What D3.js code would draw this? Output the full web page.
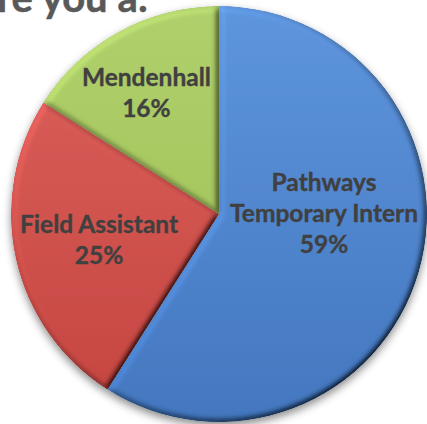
<!DOCTYPE html>
<html>
<head>
<meta charset="utf-8">
<script src="https://cdn.jsdelivr.net/npm/d3@7"></script>
<style>
html,body{margin:0;padding:0;background:#fff;overflow:hidden;}
svg{display:block;}
</style>
</head>
<body>
<script>
// ---- data ----
const title = "Are you a:";
const categories = ["Pathways Temporary Intern", "Field Assistant", "Mendenhall"];
const labelLines = [["Pathways", "Temporary Intern"], ["Field Assistant"], ["Mendenhall"]];
const values = [59, 25, 16];
const percentLabels = ["59%", "25%", "16%"];

// ---- layout / style ----
const W = 427, H = 424;
const cx = 219, cy = 214, R = 208;
const colorsTop = ["#5E95DD", "#DD625D", "#B0D06C"];
const colorsBottom = ["#4377BF", "#C4443F", "#9CBC52"];
const labelLayout = [{rf: 0.505, da: -16.7}, {rf: 0.59, da: 0.4}, {rf: 0.68, da: -2.1}];
const lineH = 31, capH = 17;
const font = "Lato, 'Open Sans', sans-serif";

const svg = d3.select("body").append("svg").attr("width", W).attr("height", H);
const defs = svg.append("defs");

values.forEach((v, i) => {
  const g = defs.append("linearGradient").attr("id", "grad" + i)
    .attr("gradientUnits", "userSpaceOnUse")
    .attr("x1", 0).attr("y1", -R).attr("x2", 0).attr("y2", R);
  g.append("stop").attr("offset", "0%").attr("stop-color", colorsTop[i]);
  g.append("stop").attr("offset", "100%").attr("stop-color", colorsBottom[i]);
});

// drop shadow
const sh = defs.append("filter").attr("id", "shadow")
  .attr("x", "-10%").attr("y", "-10%").attr("width", "125%").attr("height", "125%");
sh.append("feDropShadow").attr("dx", 0).attr("dy", 4).attr("stdDeviation", 4)
  .attr("flood-color", "#000").attr("flood-opacity", 0.45);

// bevel
const bv = defs.append("filter").attr("id", "bevel")
  .attr("x", "-5%").attr("y", "-5%").attr("width", "110%").attr("height", "110%");
bv.append("feGaussianBlur").attr("in", "SourceAlpha").attr("stdDeviation", 3).attr("result", "blur");
const dl = bv.append("feDiffuseLighting").attr("in", "blur").attr("surfaceScale", 5)
  .attr("diffuseConstant", 1).attr("lighting-color", "#fff").attr("result", "light");
dl.append("feDistantLight").attr("azimuth", 225).attr("elevation", 55);
bv.append("feComposite").attr("in", "SourceGraphic").attr("in2", "light")
  .attr("operator", "arithmetic").attr("k1", 1 / Math.sin(55 * Math.PI / 180)).attr("k2", 0).attr("k3", 0).attr("k4", 0)
  .attr("result", "lit");
bv.append("feComposite").attr("in", "lit").attr("in2", "SourceAlpha").attr("operator", "in");

const pie = d3.pie().sort(null).value(d => d);
const arcs = pie(values);
const arc = d3.arc().innerRadius(0).outerRadius(R);

const chart = svg.append("g").attr("transform", `translate(${cx},${cy})`);
const slices = chart.append("g").attr("filter", "url(#shadow)");
slices.selectAll("path").data(arcs).join("path")
  .attr("d", arc)
  .attr("fill", (d, i) => `url(#grad${i})`)
  .attr("filter", "url(#bevel)");

// labels
const labels = chart.append("g")
  .attr("font-family", font).attr("font-weight", "bold").attr("font-size", 24.5)
  .attr("fill", "#404040").attr("stroke", "#404040").attr("stroke-width", 0.35)
  .attr("text-anchor", "middle");
arcs.forEach((d, i) => {
  const mid = (d.startAngle + d.endAngle) / 2 + labelLayout[i].da * Math.PI / 180;
  const rr = labelLayout[i].rf * R;
  const x = rr * Math.sin(mid), y = -rr * Math.cos(mid);
  const lines = labelLines[i].concat([percentLabels[i]]);
  const first = y - (lines.length - 1) * lineH / 2 + capH / 2;
  const t = labels.append("text").attr("x", x);
  lines.forEach((ln, j) => {
    t.append("tspan").attr("x", x).attr("y", first + j * lineH).text(ln);
  });
});

// title (cropped at top, as in the reference)
svg.append("text").attr("x", 148).attr("y", 12)
  .attr("text-anchor", "end")
  .attr("font-family", font).attr("font-weight", "bold").attr("font-size", 40)
  .attr("fill", "#595959").attr("stroke", "#595959").attr("stroke-width", 0.5)
  .text(title);
</script>
</body>
</html>
